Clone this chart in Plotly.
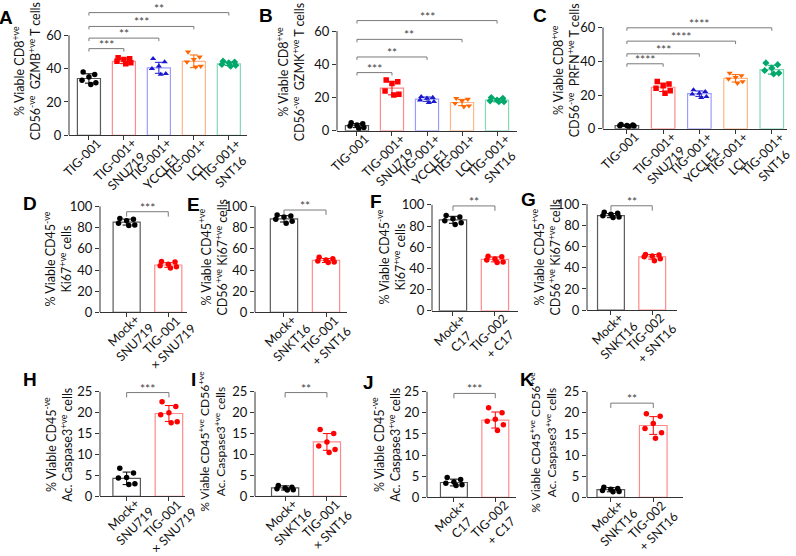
import plotly.graph_objects as go

W, H = 796, 556
FONT = "Lato, 'Open Sans', sans-serif"
AX = "#333333"

# ---------------- data ----------------
cats5 = ["TIG-001", "TIG-001+<br>SNU719", "TIG-001+<br>YCCLE1", "TIG-001+<br>LCL", "TIG-001+<br>SNT16"]

a_mean = [34.1, 44.4, 40.5, 44.4, 42.9]
a_sd = [2.8, 1.4, 3.3, 3.8, 1.0]
a_pts = [[38, 36.5, 35, 33, 31.5, 30.5], [46.5, 46, 45.5, 44.5, 43.5, 43],
         [46, 44, 41.5, 40, 37, 36.5], [50, 47, 45.5, 44, 41.5, 41],
         [44.5, 44, 43.5, 42.5, 42, 41.5]]
a_sig = [(1, 52.0, "***"), (2, 58.3, "**"), (3, 65.3, "***"), (4, 73.6, "**")]

b_mean = [3.1, 25.6, 19.0, 17.0, 18.4]
b_sd = [1.2, 4.0, 1.3, 1.9, 1.0]
b_pts = [[4.8, 4.2, 3.5, 2.8, 2.0, 1.3], [30.5, 29.5, 28.5, 24, 22, 21.5],
         [20.5, 20, 19.5, 18.5, 17.5, 17], [19.5, 19, 18, 16.5, 15, 14.5],
         [20, 19.5, 18.5, 18, 17.5, 17.5]]
b_sig = [(1, 35.0, "***"), (2, 44.4, "**"), (3, 55.0, "**"), (4, 66.3, "***")]

c_mean = [1.9, 24.6, 20.8, 29.9, 35.0]
c_sd = [0.45, 2.5, 1.6, 2.2, 2.6]
c_pts = [[2.6, 2.3, 2.0, 1.8, 1.6, 1.4], [28, 26.5, 25.5, 24, 22.5, 21],
         [23, 22, 21, 20.5, 19, 18.5], [33, 31.5, 30.5, 29.5, 28, 27],
         [39, 38, 36, 34.5, 33, 32.5]]
c_sig = [(1, 38.5, "****"), (2, 44.4, "***"), (3, 51.9, "****"), (4, 59.8, "****")]

d_cats = ["Mock+<br>SNU719", "TIG-001<br>× SNU719"]
d_mean = [85.2, 44.7]
d_sd = [2.8, 2.2]
d_pts = [[88.5, 88, 86.5, 84, 82.5, 82], [48, 47.5, 45.5, 44, 43, 42]]
d_sig = [(1, 95.0, "***")]

e_cats = ["Mock+<br>SNKT16", "TIG-001<br>+ SNT16"]
e_mean = [88.3, 49.0]
e_sd = [3.0, 1.9]
e_pts = [[92, 91, 90, 88, 86, 84], [52, 50.5, 49.5, 48.5, 47.5, 47]]
e_sig = [(1, 96.6, "**")]

f_cats = ["Mock+<br>C17", "TIG-002<br>+ C17"]
f_mean = [85.9, 48.5]
f_sd = [3.3, 2.3]
f_pts = [[90, 88.5, 87, 85, 83, 81.5], [51.5, 51, 49, 48, 46, 45.5]]
f_sig = [(1, 99.0, "**")]

g_cats = ["Mock+<br>SNKT16", "TIG-002<br>+ SNT16"]
g_mean = [89.2, 50.3]
g_sd = [1.9, 2.2]
g_pts = [[92.5, 91.5, 90.5, 89, 88, 87.5], [52.5, 52, 51, 50.5, 48.5, 46.5]]
g_sig = [(1, 98.5, "**")]

h_cats = ["Mock+<br>SNU719", "TIG-001<br>× SNU719"]
h_mean = [4.3, 19.8]
h_sd = [1.5, 1.9]
h_pts = [[6.7, 5.6, 4.5, 4.4, 3.0, 2.8], [22.6, 21.5, 20, 19.5, 17.8, 17.6]]
h_sig = [(1, 24.8, "***")]

i_cats = ["Mock+<br>SNKT16", "TIG-001<br>× SNT16"]
i_mean = [2.0, 13.0]
i_sd = [0.5, 2.0]
i_pts = [[2.6, 2.2, 2.0, 1.8, 1.6, 1.5], [16, 15, 13, 12, 11.2, 10.5]]
i_sig = [(1, 24.8, "**")]

j_cats = ["Mock+<br>C17", "TIG-002<br>+ C17"]
j_mean = [3.5, 18.3]
j_sd = [0.8, 1.9]
j_pts = [[4.7, 4.2, 3.6, 3.3, 3.0, 2.8], [21.2, 20, 18.5, 18, 17.2, 15.8]]
j_sig = [(1, 24.6, "***")]

k_cats = ["Mock+<br>SNKT16", "TIG-002<br>+ SNT16"]
k_mean = [1.8, 17.0]
k_sd = [0.5, 2.1]
k_pts = [[2.4, 2.1, 1.9, 1.6, 1.4, 1.3], [19.8, 19.2, 17.5, 16.3, 15.3, 14]]
k_sig = [(1, 22.3, "**")]

t_cd8 = "% Viable CD8<sup>+ve</sup><br>CD56<sup>-ve</sup>  {}<sup>+ve</sup> T cells"
t_ki_neg = "% Viable CD45<sup>-ve</sup><br>Ki67<sup>+ve</sup> cells"
t_ki_pos = "% Viable CD45<sup>+ve</sup><br>CD56<sup>+ve</sup> Ki67<sup>+ve</sup> cells"
t_cas_neg = "% Viable CD45<sup>-ve</sup><br>Ac. Caspase3<sup>+ve</sup> cells"
t_cas_pos = "% Viable CD45<sup>+ve</sup> CD56<sup>+ve</sup><br>Ac. Caspase3<sup>+ve</sup> cells"

# ---------------- styles ----------------
STY5 = [("#5a5a5a", "#000000", "circle"),
        ("#ff8a8a", "#ff0000", "square"),
        ("#9c9cff", "#1a1acc", "triangle-up"),
        ("#ffb587", "#ff6600", "triangle-down"),
        ("#84d8b4", "#00a86b", "diamond")]
STY2 = [("#5a5a5a", "#000000", "circle"), ("#ff8a8a", "#ff0000", "circle")]
JIT = [-0.25, 0.25, 0.0, -0.3, 0.3, 0.08]
XFS = 12.5  # x label font size

# rough Lato glyph widths (em) for placing rotated labels
CW = {"I": 0.28, "-": 0.37, " ": 0.25, "+": 0.58, "T": 0.57, "M": 0.86, "o": 0.56,
      "c": 0.47, "k": 0.5, "C": 0.66, "G": 0.72, "S": 0.52, "N": 0.74, "U": 0.71,
      "K": 0.65, "Y": 0.6, "L": 0.5, "E": 0.55, "×": 0.58}


def text_w(s, fs):
    return sum(CW.get(ch, 0.58) for ch in s) * fs


# letter, letter xy, x-left px, x-right px, x range, px of y=0, px per unit,
# top tick, dtick, y range max, title xy, title size, bar width, bracket tick px
panels = [
    ("A", (6, 12), 69, 247, [-0.57, 4.52], 132.7, 1.711, 60, 20, 76, (27, 67), 12.5, 0.66, 3,
     cats5, a_mean, a_sd, a_pts, a_sig, t_cd8.format("GZMB"), STY5),
    ("B", (266, 10), 337, 517, [-0.57, 4.57], 128, 1.705, 60, 20, 74, (291, 68), 12.5, 0.66, 3,
     cats5, b_mean, b_sd, b_pts, b_sig, t_cd8.format("GZMK"), STY5),
    ("C", (540, 10), 603, 787, [-0.66, 4.42], 126, 1.733, 60, 20, 72, (566, 66), 12.5, 0.65, 3,
     cats5, c_mean, c_sd, c_pts, c_sig, t_cd8.format("PRFN"), STY5),
    ("D", (30, 203), 100, 187, [-0.64, 1.45], 314.3, 1.087, 100, 20, 102, (58, 260), 12.5, 0.65, 5,
     d_cats, d_mean, d_sd, d_pts, d_sig, t_ki_neg, STY2),
    ("E", (193, 204), 255, 347, [-0.69, 1.5], 314.3, 1.087, 100, 20, 102, (213, 258), 12.5, 0.65, 5,
     e_cats, e_mean, e_sd, e_pts, e_sig, t_ki_pos, STY2),
    ("F", (376, 201), 432, 518, [-0.5, 1.55], 312.7, 1.087, 100, 20, 102, (391, 258), 12.5, 0.65, 5,
     f_cats, f_mean, f_sd, f_pts, f_sig, t_ki_neg, STY2),
    ("G", (528, 198), 587, 677, [-0.58, 1.6], 312, 1.087, 100, 20, 102, (546, 258), 12.5, 0.65, 5,
     g_cats, g_mean, g_sd, g_pts, g_sig, t_ki_pos, STY2),
    ("H", (30, 383), 100, 185, [-0.63, 1.38], 503, 4.292, 25, 5, 25.5, (58, 450), 12.5, 0.65, 5,
     h_cats, h_mean, h_sd, h_pts, h_sig, t_cas_neg, STY2),
    ("I", (193, 383), 255, 347, [-0.72, 1.48], 503, 4.292, 25, 5, 25.5, (212, 447), 12, 0.65, 5,
     i_cats, i_mean, i_sd, i_pts, i_sig, t_cas_pos, STY2),
    ("J", (368, 386), 427, 516, [-0.65, 1.5], 504, 4.332, 25, 5, 25.5, (386, 450), 12.5, 0.65, 5,
     j_cats, j_mean, j_sd, j_pts, j_sig, t_cas_neg, STY2),
    ("K", (527, 383), 587, 683, [-0.56, 1.7], 504, 4.332, 25, 5, 25.5, (543, 448), 12, 0.65, 5,
     k_cats, k_mean, k_sd, k_pts, k_sig, t_cas_pos, STY2),
]

fig = go.Figure()
axes = {}
shapes = []
annotations = []

for n, P in enumerate(panels, start=1):
    (letter, lxy, xl, xr, xrng, p0, unit, ytop, dtick, rmax, txy, tfs, bw, tick_px,
     cats, means, sds, pts, sig, title, sty) = P
    xa = "x" if n == 1 else f"x{n}"
    ya = "y" if n == 1 else f"y{n}"
    top_px = p0 - rmax * unit
    axes["xaxis" if n == 1 else f"xaxis{n}"] = dict(
        domain=[xl / W, xr / W], range=xrng, anchor=ya, showline=True, linecolor=AX,
        linewidth=1, ticks="outside", ticklen=4, tickcolor=AX,
        tickvals=list(range(len(cats))), showticklabels=False,
        showgrid=False, zeroline=False, fixedrange=True)
    axes["yaxis" if n == 1 else f"yaxis{n}"] = dict(
        domain=[1 - p0 / H, 1 - top_px / H], range=[0, rmax], anchor=xa, showline=False,
        ticks="outside", ticklen=4, tickcolor=AX,
        tickvals=list(range(0, ytop + 1, dtick)),
        tickfont=dict(size=13, family=FONT, color="#111"),
        showgrid=False, zeroline=False, fixedrange=True)
    shapes.append(dict(type="line", xref=f"{xa} domain", yref=ya, x0=0, x1=0, y0=0, y1=ytop,
                       line=dict(color=AX, width=1)))

    fig.add_trace(go.Bar(
        x=list(range(len(cats))), y=means, width=bw, xaxis=xa, yaxis=ya,
        marker=dict(color="white", line=dict(color=[s[0] for s in sty], width=1.2)),
        showlegend=False, hoverinfo="skip"))

    for i, grp in enumerate(pts):
        oc, mc, sym = sty[i]
        fig.add_trace(go.Scatter(
            x=[i + JIT[j] * bw for j in range(len(grp))], y=grp, mode="markers",
            marker=dict(symbol=sym, size=5.5, color=mc), xaxis=xa, yaxis=ya,
            showlegend=False, hoverinfo="skip"))
        fig.add_trace(go.Scatter(
            x=[i], y=[means[i]], mode="markers",
            marker=dict(size=1, color="rgba(0,0,0,0)"),
            error_y=dict(type="data", array=[sds[i]], color=mc, thickness=1, width=4),
            xaxis=xa, yaxis=ya, showlegend=False, hoverinfo="skip"))

    dn = tick_px / unit
    for b, h, txt in sig:
        shapes.append(dict(type="path", xref=xa, yref=ya,
                           path=f"M 0,{h - dn} L 0,{h} L {b},{h} L {b},{h - dn}",
                           line=dict(color="#7a7a7a", width=1)))
        annotations.append(dict(xref=xa, yref=ya, x=b / 2, y=h, text=txt, showarrow=False,
                                yanchor="bottom", yshift=-5,
                                font=dict(size=12, family=FONT, color="#444")))

    # rotated category labels: put the end of the first line just under the tick
    for i, lab in enumerate(cats):
        lines = lab.split("<br>")
        w1 = text_w(lines[0], XFS)
        hb = 1.3 * XFS * len(lines)
        cx = 4 - 0.707 * (w1 - hb) / 2
        cy = 0 + 0.707 * (w1 + hb) / 2
        annotations.append(dict(xref=xa, yref=ya, x=i, y=0, text=lab, textangle=-45,
                                showarrow=False, xanchor="center", yanchor="middle",
                                xshift=cx, yshift=-cy, align="center",
                                font=dict(size=XFS, family=FONT, color="#111")))

    annotations.append(dict(xref="paper", yref="paper", x=txy[0] / W, y=1 - txy[1] / H,
                            text=title, textangle=-90, showarrow=False,
                            xanchor="center", yanchor="middle", align="center",
                            font=dict(size=tfs, family=FONT, color="#111")))
    annotations.append(dict(xref="paper", yref="paper", x=lxy[0] / W, y=1 - lxy[1] / H,
                            text=f"<b>{letter}</b>", showarrow=False,
                            xanchor="center", yanchor="middle",
                            font=dict(size=19, family="Liberation Sans, Arial", color="#000")))

fig.update_layout(
    width=W, height=H, margin=dict(l=0, r=0, t=0, b=0),
    plot_bgcolor="white", paper_bgcolor="white", showlegend=False,
    shapes=shapes, annotations=annotations, **axes)

fig.write_html("out.html", config={"displayModeBar": False},
               post_script="document.body.style.margin='0';document.body.style.overflow='hidden';")
